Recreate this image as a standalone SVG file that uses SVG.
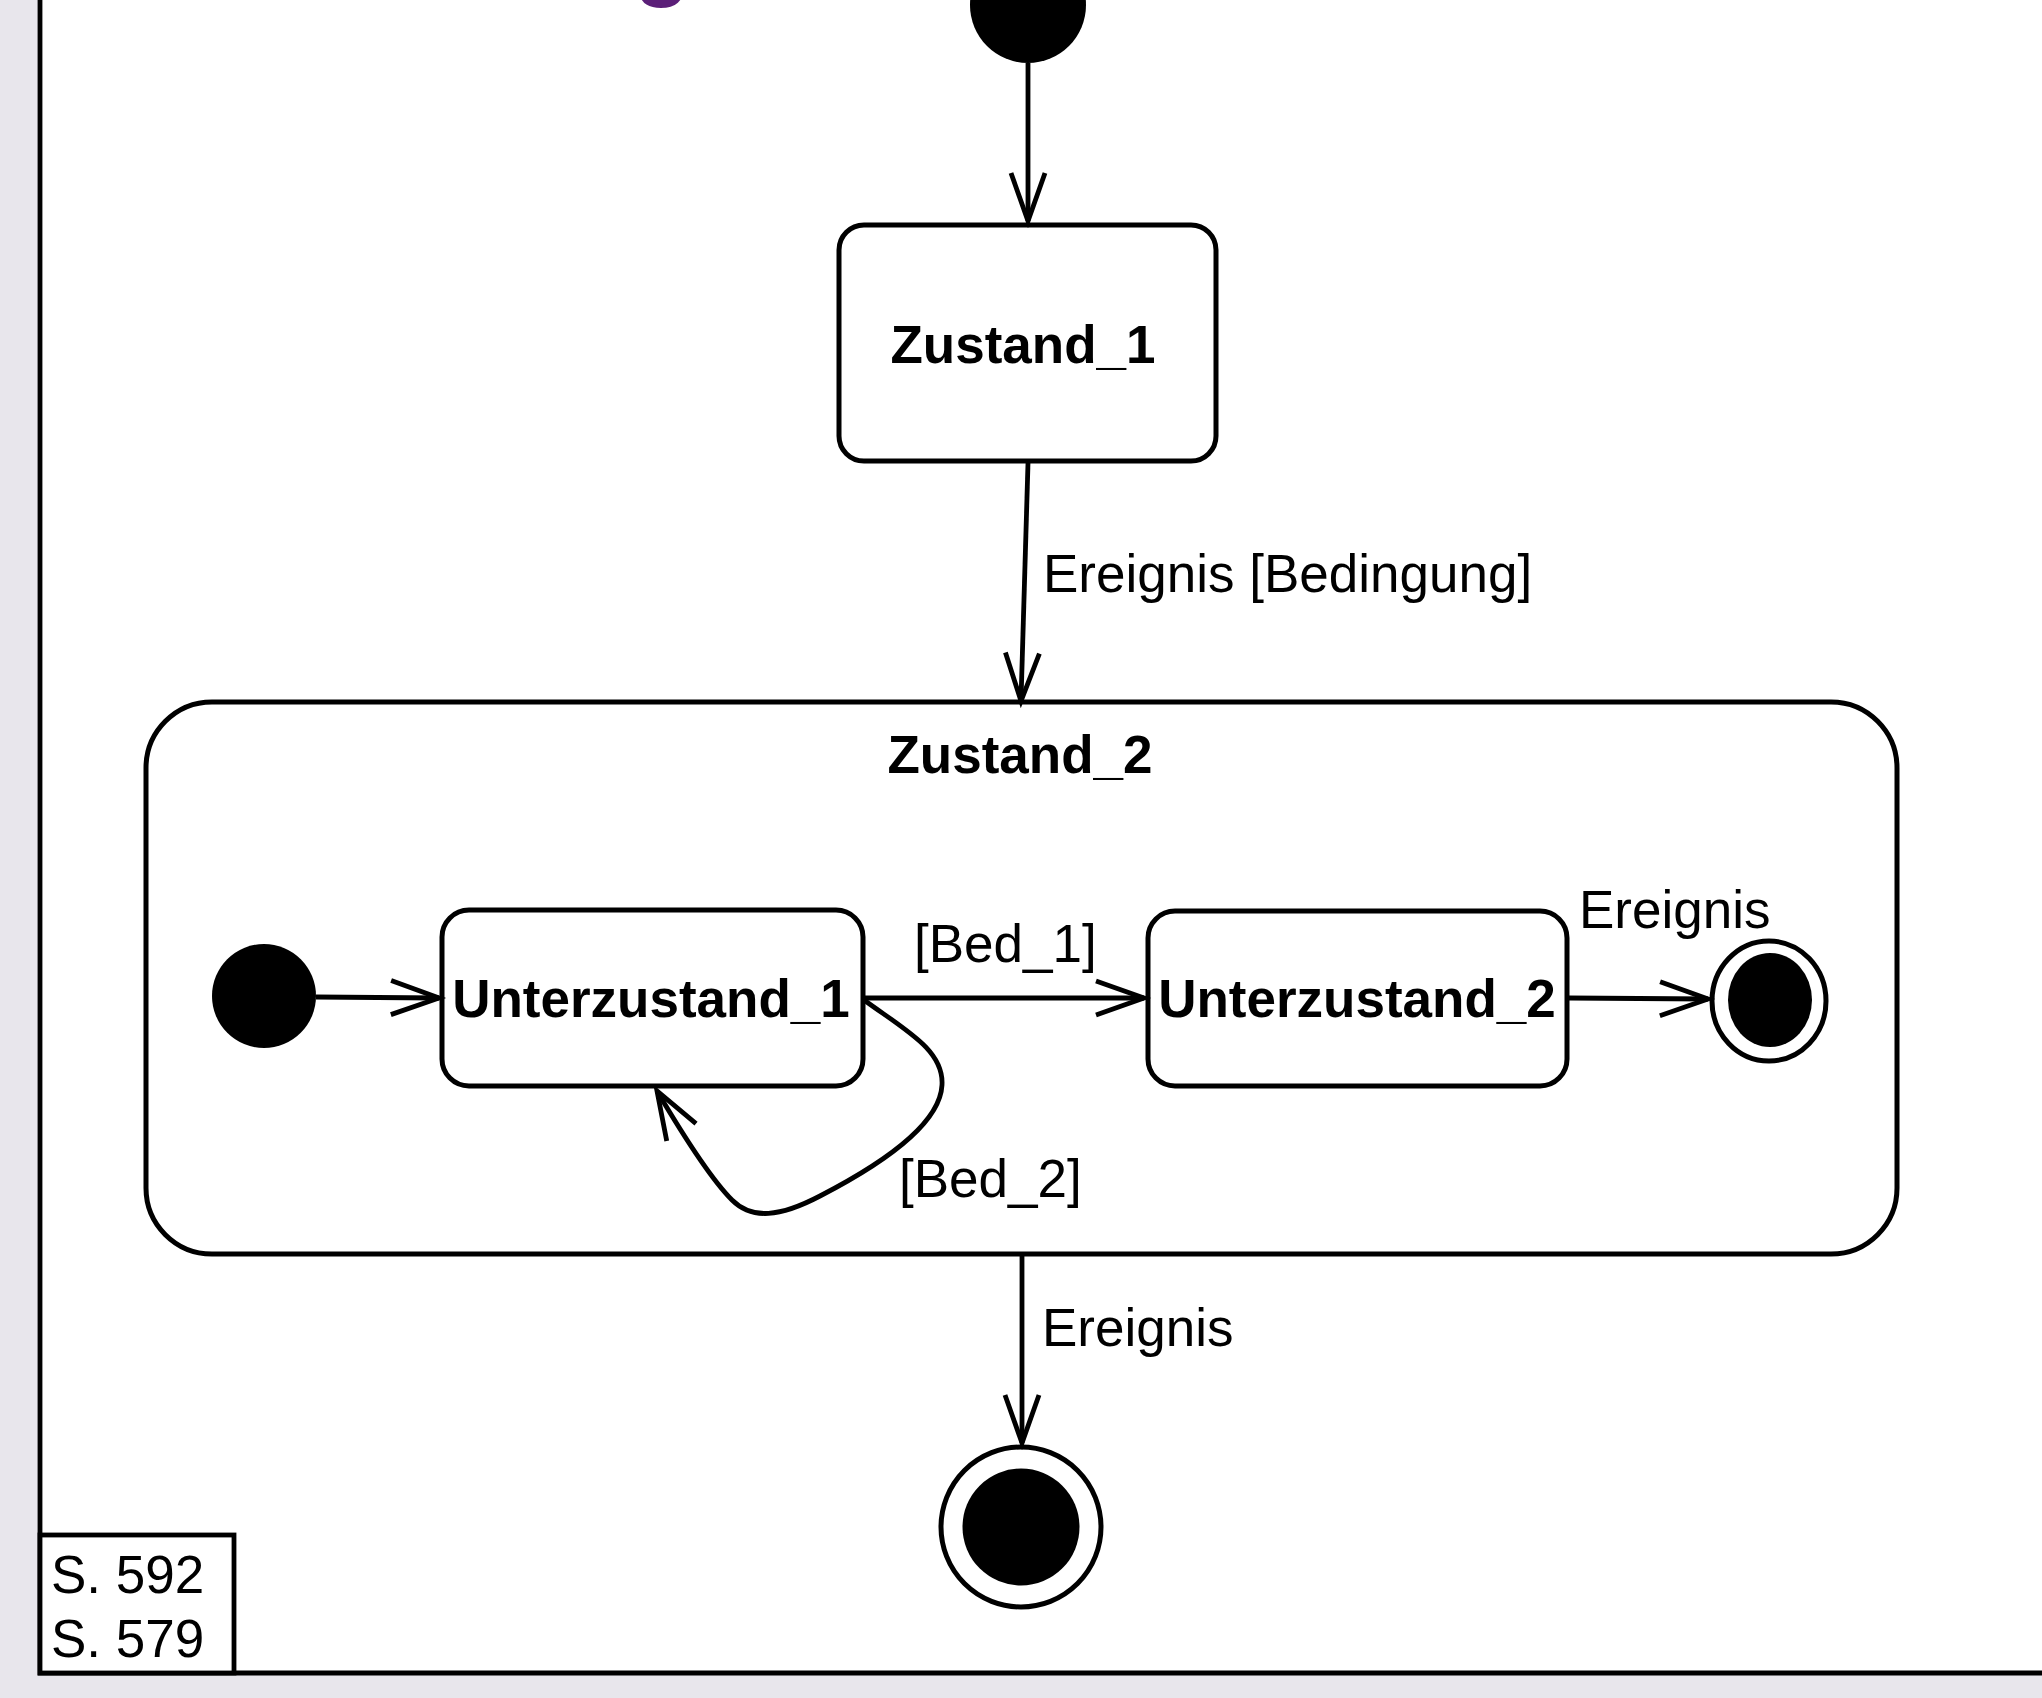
<svg xmlns="http://www.w3.org/2000/svg" width="2042" height="1698" viewBox="0 0 2042 1698">
<style>
.node{fill:#fff;stroke:#000;stroke-width:5}
.lbl{font-family:"Liberation Sans",Arial,sans-serif;font-size:53px;fill:#000}
.b{font-weight:bold}
.conn{fill:none;stroke:#000;stroke-width:4.8}
</style>
<defs>
<marker id="open" markerUnits="userSpaceOnUse" orient="auto" refX="0" refY="0" markerWidth="60" markerHeight="44" viewBox="-56 -22 60 44" overflow="visible">
<path d="M-48,-17 L0,0 L-48,17" fill="none" stroke="#000" stroke-width="4.8"/>
</marker>
</defs>
<rect x="0" y="0" width="2042" height="1698" fill="#e8e6ec"/>
<rect x="40" y="-10" width="2020" height="1683" fill="#fff"/>
<text x="662" y="-11" text-anchor="middle" style="font-family:'Liberation Sans',Arial,sans-serif;font-size:92px;font-weight:bold;fill:#5b1f78">g</text>
<g id="frame">
<path d="M40,-5 L40,1673 L2050,1673" fill="none" stroke="#000" stroke-width="4.8"/>
<rect x="40" y="1535" width="194" height="138" fill="#fff" stroke="#000" stroke-width="4.8"/>
<text class="lbl" x="51" y="1593">S. 592</text>
<text class="lbl" x="51" y="1657">S. 579</text>
</g>
<g id="start">
<circle cx="1028" cy="5" r="58" fill="#000"/>
</g>
<g id="zustand1">
<rect class="node" x="839" y="225" width="377" height="236" rx="25"/>
<text class="lbl b" x="1023" y="363" text-anchor="middle">Zustand_1</text>
</g>
<g id="zustand2">
<rect class="node" x="146" y="702" width="1751" height="552" rx="66"/>
<text class="lbl b" x="1020" y="773" text-anchor="middle">Zustand_2</text>
</g>
<g id="sub_start">
<circle cx="264" cy="996" r="52" fill="#000"/>
</g>
<g id="unterzustand1">
<rect class="node" x="442" y="910" width="421" height="176" rx="27"/>
<text class="lbl b" x="651" y="1017" text-anchor="middle">Unterzustand_1</text>
</g>
<g id="unterzustand2">
<rect class="node" x="1148" y="911" width="419" height="175" rx="27"/>
<text class="lbl b" x="1357" y="1017" text-anchor="middle">Unterzustand_2</text>
</g>
<g id="sub_end">
<ellipse cx="1769" cy="1001" rx="57" ry="60" fill="#fff" stroke="#000" stroke-width="5"/>
<ellipse cx="1770" cy="1000" rx="42" ry="47" fill="#000"/>
</g>
<g id="end">
<circle cx="1021" cy="1527" r="80" fill="#fff" stroke="#000" stroke-width="5"/>
<circle cx="1021" cy="1527" r="58.5" fill="#000"/>
</g>
<g id="connectors">
<path class="conn" d="M1028,63 L1028,221" marker-end="url(#open)"/>
<path class="conn" d="M1028,463 L1021,701" marker-end="url(#open)"/>
<path class="conn" d="M316,997 L439,998" marker-end="url(#open)"/>
<path class="conn" d="M864,998 L1144,998" marker-end="url(#open)"/>
<path class="conn" d="M864,1000 C905,1030 944,1050 942,1085 C940,1125 880,1165 820,1196 C780,1217 752,1220 732,1200 C712,1180 680,1130 657,1091" marker-end="url(#open)"/>
<path class="conn" d="M1569,998 L1708,999" marker-end="url(#open)"/>
<path class="conn" d="M1022,1256 L1022,1443" marker-end="url(#open)"/>
<text class="lbl" x="1043" y="592">Ereignis [Bedingung]</text>
<text class="lbl" x="914" y="962">[Bed_1]</text>
<text class="lbl" x="899" y="1197">[Bed_2]</text>
<text class="lbl" x="1579" y="928">Ereignis</text>
<text class="lbl" x="1042" y="1346">Ereignis</text>
</g>
</svg>
